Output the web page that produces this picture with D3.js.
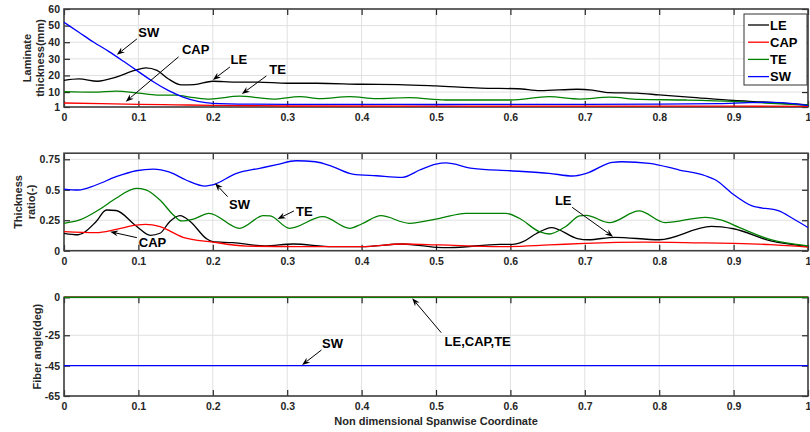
<!DOCTYPE html>
<html><head><meta charset="utf-8">
<script src="https://cdn.jsdelivr.net/npm/d3@7"></script>
<style>
body{margin:0;background:#fff}
text{font-family:"Liberation Sans",Arial,Helvetica,sans-serif;font-weight:bold}
</style>
</head><body><svg id="c" width="810" height="432"></svg>
<script>
// ---------- data ----------
const xTicks = [0,0.1,0.2,0.3,0.4,0.5,0.6,0.7,0.8,0.9,1];
const xTickLabels = ["0","0.1","0.2","0.3","0.4","0.5","0.6","0.7","0.8","0.9","1"];

const topYTicks = [1,10,20,30,40,50,60];
const midYTicks = [0,0.25,0.5,0.75];
const midYTickLabels = ["0","0.25","0.5","0.75"];
const botYTicks = [-65,-45,-25,0];

// Top: laminate thickness (mm)
const topLE_x = [0,0.02,0.045,0.07,0.095,0.11,0.125,0.14,0.158,0.175,0.2,0.23,0.26,0.3,0.34,0.4,0.45,0.5,0.56,0.61,0.64,0.69,0.71,0.733,0.77,0.8,0.84,0.9,0.94,1];
const topLE   = [17,17.9,16.5,19,23,24.5,23,18,14.3,14.5,16.5,16,16,15.3,15.3,14.7,14.5,13.7,12.4,12,10.8,11.7,11.2,9.6,9.3,8.3,7,4.9,4,2.2];
const topCAP_x = [0,0.05,0.1,0.15,0.2,0.3,0.5,0.7,0.9,1];
const topCAP   = [3.4,3.0,2.6,2.3,2.0,1.6,1.5,1.5,1.5,1.4];
const topTE_x = [0,0.04,0.07,0.1,0.125,0.15,0.175,0.196,0.236,0.263,0.281,0.317,0.344,0.384,0.42,0.464,0.513,0.6,0.652,0.693,0.733,0.773,0.836,0.9,0.943,1];
const topTE   = [10.2,9.9,10.6,9.4,8.2,8.1,6.6,5.8,7.5,6.5,5.8,7.3,6,7.2,6,6.6,5.2,5.2,7.2,5.8,6.9,5.6,5.2,4.4,3.4,2.2];
const topSW_x = [0,0.02,0.04,0.06,0.08,0.1,0.12,0.14,0.16,0.18,0.2,0.25,0.3,0.4,0.5,0.6,0.7,0.8,0.88,0.92,0.95,0.98,1];
const topSW   = [52,46,40,34.5,28.5,22.3,16.2,11,7,4.4,3.2,2.7,2.6,2.6,2.5,2.6,2.6,2.7,3.0,3.6,3.8,3.0,1.8];

// Middle: thickness ratio (-)
const midLE_x = [0,0.019,0.043,0.057,0.07,0.097,0.116,0.129,0.142,0.156,0.17,0.191,0.2,0.227,0.27,0.308,0.361,0.4,0.455,0.5,0.518,0.586,0.603,0.617,0.634,0.655,0.69,0.705,0.74,0.8,0.87,0.9,0.95,1];
const midLE   = [0.143,0.131,0.238,0.334,0.33,0.203,0.126,0.143,0.238,0.287,0.238,0.101,0.074,0.066,0.039,0.055,0.033,0.033,0.055,0.028,0.025,0.052,0.052,0.074,0.137,0.19,0.1,0.09,0.11,0.09,0.2,0.18,0.08,0.035];
const midCAP_x = [0,0.043,0.07,0.097,0.11,0.129,0.16,0.2,0.245,0.317,0.4,0.455,0.505,0.586,0.652,0.7,0.78,0.85,0.9,0.95,1];
const midCAP   = [0.156,0.148,0.175,0.21,0.216,0.197,0.11,0.071,0.038,0.033,0.033,0.055,0.047,0.033,0.047,0.06,0.07,0.065,0.06,0.05,0.03];
const midTE_x = [0,0.021,0.048,0.07,0.097,0.11,0.129,0.147,0.158,0.174,0.195,0.236,0.268,0.277,0.303,0.348,0.384,0.4,0.426,0.464,0.505,0.54,0.594,0.612,0.639,0.652,0.674,0.693,0.702,0.733,0.773,0.808,0.862,0.884,0.908,0.95,1];
const midTE   = [0.225,0.252,0.34,0.43,0.512,0.5,0.416,0.293,0.244,0.26,0.307,0.184,0.287,0.285,0.184,0.279,0.184,0.219,0.287,0.225,0.266,0.307,0.307,0.266,0.156,0.137,0.197,0.285,0.29,0.23,0.326,0.23,0.274,0.25,0.19,0.09,0.04];
const midSW_x = [0,0.019,0.043,0.07,0.097,0.12,0.142,0.164,0.19,0.2,0.232,0.263,0.286,0.312,0.338,0.361,0.388,0.42,0.455,0.478,0.5,0.513,0.549,0.6,0.652,0.684,0.702,0.737,0.75,0.787,0.827,0.862,0.876,0.898,0.925,0.961,0.979,1];
const midSW   = [0.506,0.498,0.539,0.607,0.656,0.67,0.645,0.58,0.53,0.54,0.635,0.676,0.706,0.738,0.73,0.69,0.629,0.615,0.602,0.662,0.711,0.72,0.676,0.656,0.635,0.613,0.635,0.725,0.73,0.717,0.662,0.615,0.58,0.47,0.367,0.326,0.266,0.19];

// Bottom: fiber angle (deg)
const botX = [0,1];
const botLE = [0,0];
const botCAP = [0,0];
const botTE = [0,0];
const botSW = [-45,-45];

const seriesNames = ["LE","CAP","TE","SW"];
const seriesColors = ["#000000","#ff0000","#008000","#0000ff"];

// ---------- drawing ----------
const svg = d3.select("#c");
const x = d3.scaleLinear().domain([0,1]).range([64,808]);
const TXT = "#262626";

function panel(cfg){
  const y = d3.scaleLinear().domain(cfg.yDomain).range(cfg.yRange);
  const yb = cfg.yRange[0], yt = cfg.yRange[1];
  const g = svg.append("g");
  g.append("g").selectAll("line").data(xTicks).join("line")
    .attr("x1",d=>x(d)).attr("x2",d=>x(d)).attr("y1",yt).attr("y2",yb)
    .attr("stroke","#e0e0e0").attr("stroke-width",1);
  g.append("g").selectAll("line").data(cfg.yTicks).join("line")
    .attr("x1",64).attr("x2",808).attr("y1",d=>y(d)).attr("y2",d=>y(d))
    .attr("stroke","#e0e0e0").attr("stroke-width",1);
  const styleAxis = a => {
    a.select(".domain").remove();
    a.selectAll(".tick line").attr("stroke",TXT).attr("stroke-width",1.2);
    a.selectAll(".tick text").attr("fill",TXT).style("font-size","10.5px");
  };
  g.append("g").attr("transform",`translate(0,${yb})`)
    .call(d3.axisBottom(x).tickValues(xTicks).tickFormat((d,i)=>xTickLabels[i]).tickSizeInner(-6).tickSizeOuter(0).tickPadding(7))
    .call(styleAxis);
  g.append("g").attr("transform",`translate(0,${yt})`)
    .call(d3.axisTop(x).tickValues(xTicks).tickFormat("").tickSizeInner(-6).tickSizeOuter(0))
    .call(styleAxis);
  g.append("g").attr("transform",`translate(64,0)`)
    .call(d3.axisLeft(y).tickValues(cfg.yTicks).tickFormat((d,i)=>cfg.yLabels[i]).tickSizeInner(-6).tickSizeOuter(0).tickPadding(4))
    .call(styleAxis);
  g.append("g").attr("transform",`translate(808,0)`)
    .call(d3.axisRight(y).tickValues(cfg.yTicks).tickFormat("").tickSizeInner(-6).tickSizeOuter(0))
    .call(styleAxis);
  g.append("rect").attr("x",64).attr("y",yt).attr("width",744).attr("height",yb-yt)
    .attr("fill","none").attr("stroke","#404040").attr("stroke-width",1.6);
  const lab = g.append("text").attr("transform",`translate(${cfg.labX},${(yb+yt)/2}) rotate(-90)`)
    .attr("text-anchor","middle").attr("fill",TXT).style("font-size","11px");
  cfg.label.forEach((t,i)=>{
    lab.append("tspan").attr("x",0).attr("dy", i===0 ? (-(cfg.label.length-1)*0.6+0.35)+"em" : "1.2em").text(t);
  });
  const line = d3.line().x(d=>x(d[0])).y(d=>y(d[1])).curve(d3.curveMonotoneX);
  cfg.series.forEach((s,i)=>{
    g.append("path").datum(s.x.map((xv,j)=>[xv,s.y[j]]))
      .attr("d",line).attr("fill","none").attr("stroke",seriesColors[i]).attr("stroke-width",1.3);
  });
  cfg.notes.forEach(n=>{
    g.append("text").attr("x",x(n.tx)).attr("y",y(n.ty)).attr("text-anchor","middle")
      .attr("dominant-baseline","central").style("font-size","13px").attr("fill","#000").text(n.t);
    const x1=x(n.ax),y1=y(n.ay),x2=x(n.bx),y2=y(n.by);
    const ang=Math.atan2(y2-y1,x2-x1), L=8, W=3;
    const bx=x2-L*Math.cos(ang), by=y2-L*Math.sin(ang);
    g.append("line").attr("x1",x1).attr("y1",y1).attr("x2",bx+2*Math.cos(ang)).attr("y2",by+2*Math.sin(ang))
      .attr("stroke","#000").attr("stroke-width",1);
    const px=-Math.sin(ang), py=Math.cos(ang);
    const nx=x2-(L-2.5)*Math.cos(ang), ny=y2-(L-2.5)*Math.sin(ang);
    g.append("path").attr("d",`M${x2},${y2}L${bx+W*px},${by+W*py}L${nx},${ny}L${bx-W*px},${by-W*py}Z`).attr("fill","#000");
  });
  return {g,y};
}

const topPanel = panel({
  yDomain:[1,60], yRange:[107,9], yTicks:topYTicks, yLabels:topYTicks.map(String),
  label:["Laminate","thickness(mm)"], labX:34,
  series:[{x:topLE_x,y:topLE},{x:topCAP_x,y:topCAP},{x:topTE_x,y:topTE},{x:topSW_x,y:topSW}],
  notes:[
    {t:"SW",tx:0.114,ty:45.6,ax:0.098,ay:42,bx:0.071,by:32.4},
    {t:"CAP",tx:0.177,ty:35.4,ax:0.154,ay:31.2,bx:0.083,by:4.2},
    {t:"LE",tx:0.235,ty:29.4,ax:0.223,ay:25.1,bx:0.2,by:17.3},
    {t:"TE",tx:0.287,ty:23.3,ax:0.272,ay:19.7,bx:0.239,by:8.8}
  ]
});
panel({
  yDomain:[0,0.8], yRange:[250.7,153.2], yTicks:midYTicks, yLabels:midYTickLabels,
  label:["Thickness","ratio(-)"], labX:25,
  series:[{x:midLE_x,y:midLE},{x:midCAP_x,y:midCAP},{x:midTE_x,y:midTE},{x:midSW_x,y:midSW}],
  notes:[
    {t:"SW",tx:0.236,ty:0.383,ax:0.22,ay:0.443,bx:0.203,by:0.553},
    {t:"TE",tx:0.323,ty:0.322,ax:0.309,ay:0.326,bx:0.287,by:0.26},
    {t:"CAP",tx:0.119,ty:0.067,ax:0.098,ay:0.107,bx:0.062,by:0.156},
    {t:"LE",tx:0.671,ty:0.412,ax:0.683,ay:0.356,bx:0.738,by:0.115}
  ]
});
panel({
  yDomain:[-65,0], yRange:[396,297.3], yTicks:botYTicks, yLabels:botYTicks.map(String),
  label:["Fiber angle(deg)"], labX:37.5,
  series:[{x:botX,y:botLE},{x:botX,y:botCAP},{x:botX,y:botTE},{x:botX,y:botSW}],
  notes:[
    {t:"SW",tx:0.361,ty:-30.4,ax:0.346,ay:-34.7,bx:0.32,by:-44.6},
    {t:"LE,CAP,TE",tx:0.556,ty:-29.4,ax:0.507,ay:-23.3,bx:0.468,by:-0.66}
  ]
});

svg.append("text").attr("x",x(0.5)).attr("y",421).attr("text-anchor","middle")
  .attr("dominant-baseline","central").attr("fill",TXT).style("font-size","11px")
  .text("Non dimensional Spanwise Coordinate");

const lg = topPanel.g.append("g").attr("transform","translate(744,14)");
lg.append("rect").attr("width",63).attr("height",71).attr("fill","#fff").attr("stroke","#333").attr("stroke-width",1);
seriesNames.forEach((n,i)=>{
  const yy = 11 + i*17.2;
  lg.append("line").attr("x1",4).attr("x2",25).attr("y1",yy).attr("y2",yy).attr("stroke",seriesColors[i]).attr("stroke-width",1.3);
  lg.append("text").attr("x",26).attr("y",yy).attr("dominant-baseline","central").style("font-size","13px").attr("fill","#000").text(n);
});
</script>
</body></html>
